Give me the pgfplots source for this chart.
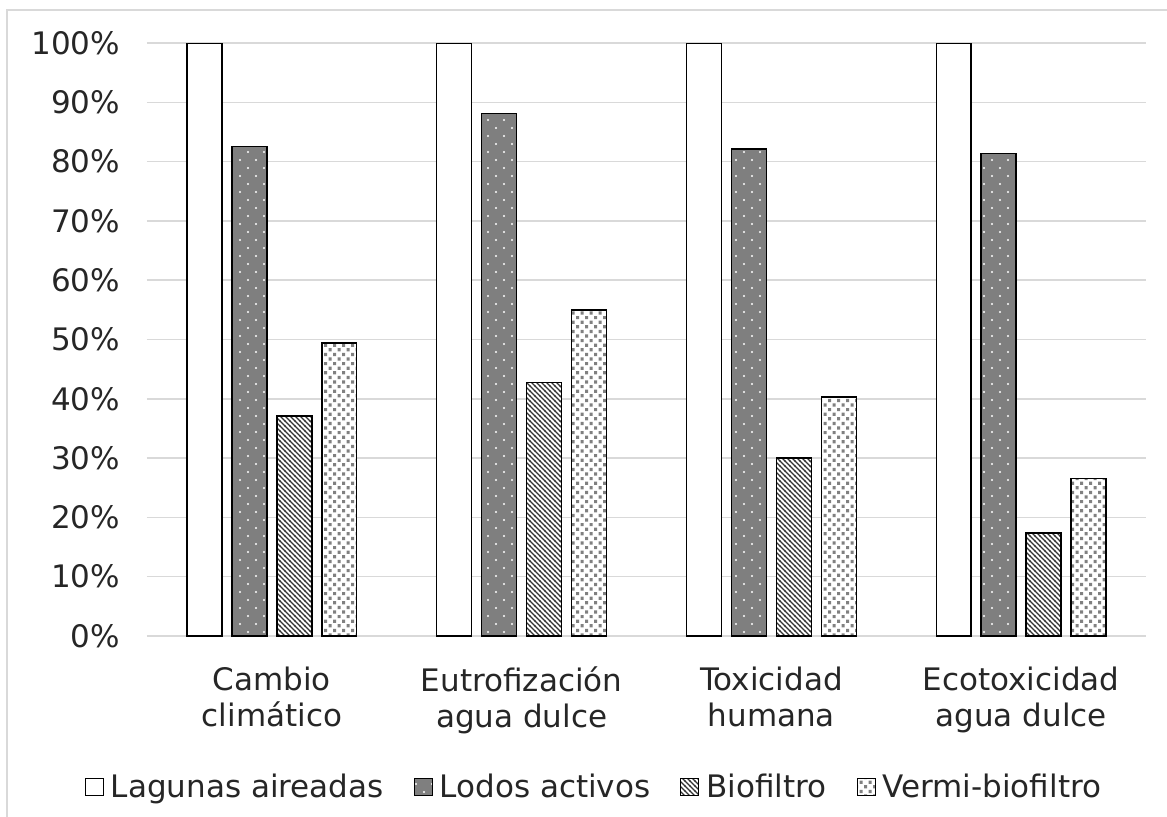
\documentclass[border=0pt]{standalone}
\usepackage{pgfplots}
\pgfplotsset{compat=1.18}
\usepackage{fontspec}
\setmainfont{DejaVu Sans}
\usetikzlibrary{patterns}
\pgfdeclarepatternformonly{lododots}{\pgfqpoint{-1pt}{-1pt}}{\pgfqpoint{9pt}{9pt}}{\pgfqpoint{8pt}{8pt}}{%
  \pgfpathcircle{\pgfqpoint{0pt}{0pt}}{0.6pt}%
  \pgfpathcircle{\pgfqpoint{4pt}{4pt}}{0.6pt}%
  \pgfusepath{fill}}
\pgfdeclarepatternformonly{diaglines}{\pgfqpoint{-0.5pt}{-0.5pt}}{\pgfqpoint{3pt}{3pt}}{\pgfqpoint{2.5pt}{2.5pt}}{%
  \pgfsetlinewidth{0.7pt}%
  \pgfpathmoveto{\pgfqpoint{-0.2pt}{2.7pt}}%
  \pgfpathlineto{\pgfqpoint{2.7pt}{-0.2pt}}%
  \pgfusepath{stroke}}
\pgfdeclarepatternformonly{vermisq}{\pgfqpoint{-0.1pt}{-0.1pt}}{\pgfqpoint{4.6pt}{4.7pt}}{\pgfqpoint{4.5pt}{4.6pt}}{%
  \pgfpathrectangle{\pgfqpoint{0pt}{0pt}}{\pgfqpoint{1.6pt}{1.6pt}}%
  \pgfpathrectangle{\pgfqpoint{2.25pt}{2.3pt}}{\pgfqpoint{1.6pt}{1.6pt}}%
  \pgfusepath{fill}}
\definecolor{gridc}{HTML}{D9D9D9}
\definecolor{txt}{HTML}{262626}
\definecolor{lodos}{HTML}{7F7F7F}
\begin{document}
\begin{tikzpicture}
\useasboundingbox (0,0) rectangle (583.5pt,408pt);
\draw[gridc, line width=0.8pt] (3.5pt,-5pt) |- (600pt,403pt);
\begin{axis}[
  at={(73.5pt,90pt)}, anchor=south west,
  scale only axis, width=499.5pt, height=296.5pt,
  ybar, bar width=0.14,
  xmin=-0.5, xmax=3.5, ymin=0, ymax=100,
  enlargelimits=false,
  xtick={0,1,2,3},
  xticklabels={Cambio\\climático, Eutrofización\\agua dulce, Toxicidad\\humana, Ecotoxicidad\\agua dulce},
  ytick={0,10,...,100},
  yticklabel={\pgfmathprintnumber{\tick}\%},
  /pgf/number format/assume math mode=true,
  major tick length=0pt,
  axis line style={draw=none},
  ymajorgrids, grid style={gridc, line width=0.75pt},
  tick label style={font=\fontsize{15.5}{18}\selectfont, text=txt},
  yticklabel style={xshift=-10pt},
  xticklabel style={align=center, yshift=-12pt},
  legend columns=4,
  legend style={draw=none, fill=none, font=\fontsize{15.5}{18}\selectfont, text=txt,
    at={(0.4485,-0.2546)}, anchor=center,
    /tikz/every even column/.append style={column sep=13pt},
    /tikz/every odd column/.append style={column sep=1.5pt}},
  legend image code/.code={\draw[#1, line width=0.5pt] (0pt,-4.25pt) rectangle (9pt,4.25pt);},
]
\addplot[bar shift=-0.27, draw=black, line width=0.7pt, fill=white]
  coordinates {(0,100) (1,100) (2,100) (3,100)};
\addplot[bar shift=-0.09, draw=black, line width=0.7pt, fill=lodos, postaction={pattern=lododots, pattern color=white}]
  coordinates {(0,82.5) (1,88.1) (2,82.1) (3,81.4)};
\addplot[bar shift=0.09, draw=black, line width=0.7pt, fill=white, postaction={pattern=diaglines, pattern color=black!80}]
  coordinates {(0,37.1) (1,42.8) (2,30.0) (3,17.4)};
\addplot[bar shift=0.27, draw=black, line width=0.7pt, fill=white, postaction={pattern=vermisq, pattern color=black!50}]
  coordinates {(0,49.4) (1,55.0) (2,40.3) (3,26.6)};
\legend{Lagunas aireadas, Lodos activos, Biofiltro, Vermi-biofiltro}
\end{axis}
\end{tikzpicture}
\end{document}
